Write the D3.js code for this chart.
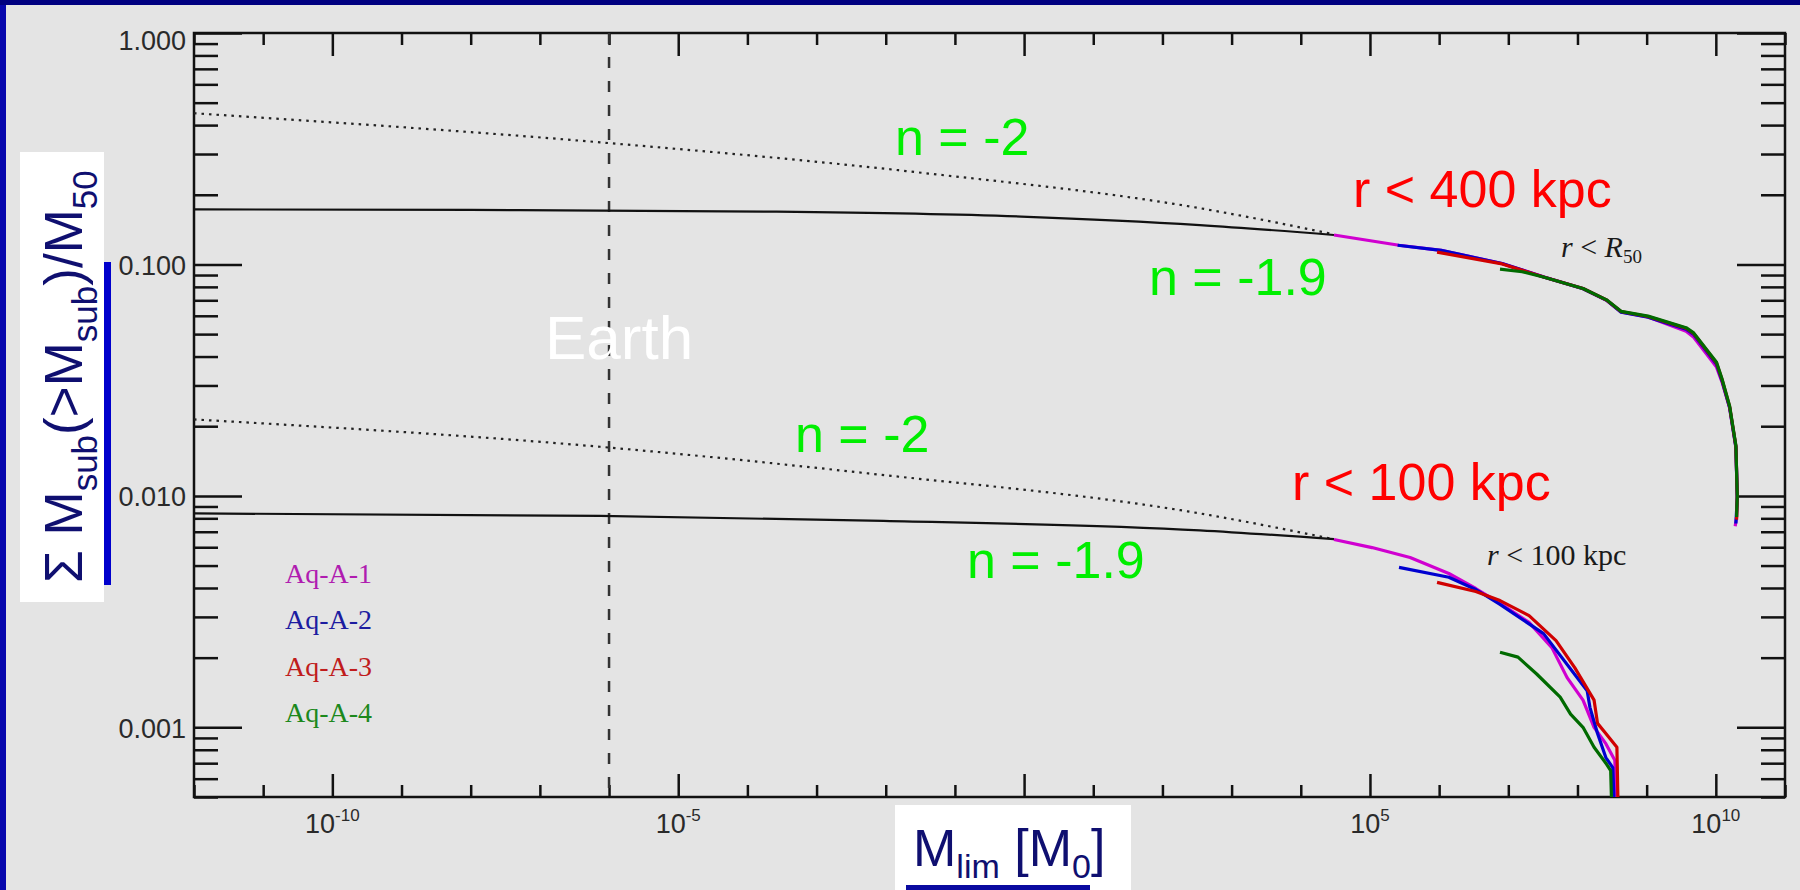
<!DOCTYPE html>
<html>
<head>
<meta charset="utf-8">
<script src="https://cdn.jsdelivr.net/npm/d3@7"></script>
<style>
	html, body { margin: 0; padding: 0; background: #e4e4e4; }
	svg { display: block; }
</style>
</head>
<body>
<div id="chart"></div>
<script>
(function(){
	// axis ticks (log10 exponents / values)
	var xMajorExp = [-10, -5, 0, 5, 10];
	var xLabelExp = [-10, -5, 5, 10];
	var yMajor = [1, 0.1, 0.01, 0.001];
	var yLabels = ['1.000', '0.100', '0.010', '0.001'];
	var earthExp = -6;

	// n = -2 extrapolations (dotted)
	var dotHiExp = [-12, -6.13, -1.59, 2.54, 4.48];
	var dotHiVal = [0.450, 0.337, 0.251, 0.175, 0.135];
	var dotLoExp = [-12, -6.13, -2.25, 2.54, 4.48];
	var dotLoVal = [0.0214, 0.0163, 0.0125, 0.0084, 0.0065];

	// n = -1.9 extrapolations (solid black)
	var fitHiExp = [-12, -8, -3.58, -0.04, 2.54, 4.48];
	var fitHiVal = [0.173, 0.172, 0.169, 0.161, 0.148, 0.134];
	var fitLoExp = [-12, -6.13, -2.03, 2.54, 4.48];
	var fitLoVal = [0.0084, 0.0082, 0.0078, 0.0071, 0.0065];

	// simulations, r < R50
	var hiA1Exp = [4.48, 5.42, 6.03, 6.91, 7.52, 8.08, 8.42, 8.63, 9.02, 9.57, 9.68, 10.01, 10.09, 10.20, 10.29, 10.31, 10.30, 10.28];
	var hiA1Val = [0.134, 0.121, 0.115, 0.101, 0.0883, 0.0787, 0.0701, 0.0624, 0.0593, 0.0515, 0.0485, 0.0360, 0.0310, 0.0240, 0.0163, 0.0099, 0.0081, 0.0074];
	var hiA2Exp = [5.40, 6.03, 6.91, 7.52, 8.08, 8.42, 8.63, 9.02, 9.57, 9.68, 10.01, 10.09, 10.20, 10.29, 10.31, 10.29];
	var hiA2Val = [0.121, 0.115, 0.101, 0.0880, 0.0785, 0.0700, 0.0622, 0.0592, 0.0525, 0.0498, 0.0370, 0.0314, 0.0240, 0.0162, 0.0098, 0.0076];
	var hiA3Exp = [5.97, 6.91, 7.52, 8.08, 8.42, 8.63, 9.02, 9.57, 9.68, 10.01, 10.09, 10.20, 10.29, 10.31, 10.30];
	var hiA3Val = [0.113, 0.1005, 0.0880, 0.0787, 0.0702, 0.0626, 0.0596, 0.0530, 0.0503, 0.0375, 0.0318, 0.0243, 0.0164, 0.0100, 0.0079];
	var hiA4Exp = [6.88, 7.20, 7.52, 8.08, 8.42, 8.63, 9.02, 9.57, 9.68, 10.01, 10.09, 10.20, 10.29, 10.31, 10.30];
	var hiA4Val = [0.0955, 0.0930, 0.0880, 0.0787, 0.0703, 0.0627, 0.0598, 0.0533, 0.0506, 0.0378, 0.0320, 0.0244, 0.0165, 0.0100, 0.0081];

	// simulations, r < 100 kpc
	var loA1Exp = [4.48, 5.03, 5.58, 6.14, 6.53, 6.88, 7.30, 7.63, 7.85, 8.08, 8.24, 8.41, 8.54, 8.57];
	var loA1Val = [0.00648, 0.00598, 0.00542, 0.00462, 0.00398, 0.00343, 0.00284, 0.00221, 0.00164, 0.00131, 0.00100, 0.00085, 0.00072, 0.0004];
	var loA2Exp = [5.42, 6.14, 6.53, 6.88, 7.51, 8.14, 8.18, 8.29, 8.41, 8.51, 8.54];
	var loA2Val = [0.00491, 0.00445, 0.00394, 0.00340, 0.00254, 0.00144, 0.00122, 0.00094, 0.00074, 0.00067, 0.0004];
	var loA3Exp = [5.97, 6.53, 6.88, 7.30, 7.69, 7.96, 8.24, 8.29, 8.41, 8.57, 8.59];
	var loA3Val = [0.00423, 0.00386, 0.00353, 0.00304, 0.00237, 0.00181, 0.00131, 0.00104, 0.00094, 0.00082, 0.0004];
	var loA4Exp = [6.88, 7.14, 7.41, 7.75, 7.90, 8.08, 8.24, 8.41, 8.48, 8.50];
	var loA4Val = [0.00211, 0.00201, 0.00170, 0.00135, 0.00114, 0.00100, 0.00082, 0.00070, 0.00065, 0.0004];

	var runs = ['Aq-A-1', 'Aq-A-2', 'Aq-A-3', 'Aq-A-4'];
	var lineColors = ['#d000d0', '#0000d0', '#d00000', '#006a00'];
	var legendColors = ['#b01cb0', '#1c1ca0', '#c01c1c', '#1c881c'];

	var width = 1800, height = 890;
	var plot = {left: 194, right: 1785, top: 33, bottom: 797};
	var sans = '"Liberation Sans", Arial, Helvetica, sans-serif';
	var serif = '"Liberation Serif", "Times New Roman", serif';
	var navy = '#0f0f70', green = '#00ee00', red = '#ff0000';

	var svg = d3.select('#chart').append('svg')
		.attr('width', width)
		.attr('height', height);

	svg.append('rect').attr('width', width).attr('height', height).attr('fill', '#e4e4e4');
	svg.append('rect').attr('x', 0).attr('y', 0).attr('width', 6).attr('height', height).attr('fill', '#0707ad');
	svg.append('rect').attr('x', 0).attr('y', 0).attr('width', width).attr('height', 5).attr('fill', '#000080');

	var x = d3.scaleLog().domain([1e-12, 1e11]).range([plot.left, plot.right]);
	var y = d3.scaleLog().domain([5e-4, 1]).range([plot.bottom, plot.top]);

	var pow = function(e) { return Math.pow(10, e); };
	var isDecade = function(v) { var l = Math.log10(v); return Math.abs(l - Math.round(l)) < 1e-6; };

	var xMajor = xMajorExp.map(pow);
	var xMinor = d3.range(-12, 12).filter(function(e) { return xMajorExp.indexOf(e) < 0; }).map(pow);
	var yMinor = y.ticks().filter(function(v) { return !isDecade(v); });

	// clip for the curves
	svg.append('clipPath').attr('id', 'clip')
		.append('rect')
			.attr('x', plot.left).attr('y', plot.top)
			.attr('width', plot.right - plot.left).attr('height', plot.bottom - plot.top);

	// ticks on all four sides
	var axes = svg.append('g').attr('class', 'axes');
	var tick = function(g, axis, tx, ty) {
		var a = axes.append('g').attr('transform', 'translate(' + tx + ',' + ty + ')').call(axis.tickFormat(''));
		a.select('.domain').remove();
		a.selectAll('line').attr('stroke', '#111').attr('stroke-width', 2.5);
	};
	tick(axes, d3.axisBottom(x).tickValues(xMajor).tickSize(-23), 0, plot.bottom);
	tick(axes, d3.axisBottom(x).tickValues(xMinor).tickSize(-12), 0, plot.bottom);
	tick(axes, d3.axisTop(x).tickValues(xMajor).tickSize(-23), 0, plot.top);
	tick(axes, d3.axisTop(x).tickValues(xMinor).tickSize(-12), 0, plot.top);
	tick(axes, d3.axisLeft(y).tickValues(yMajor).tickSize(-48), plot.left, 0);
	tick(axes, d3.axisLeft(y).tickValues(yMinor).tickSize(-24), plot.left, 0);
	tick(axes, d3.axisRight(y).tickValues(yMajor).tickSize(-48), plot.right, 0);
	tick(axes, d3.axisRight(y).tickValues(yMinor).tickSize(-24), plot.right, 0);

	axes.append('rect')
		.attr('x', plot.left).attr('y', plot.top)
		.attr('width', plot.right - plot.left).attr('height', plot.bottom - plot.top)
		.attr('fill', 'none').attr('stroke', '#111').attr('stroke-width', 2.5);

	// tick labels
	var xl = svg.append('g').selectAll('text')
		.data(xLabelExp)
		.enter().append('text')
			.attr('x', function(d) { return x(pow(d)); })
			.attr('y', 833)
			.attr('text-anchor', 'middle')
			.style('font-family', sans).style('font-size', '27px').style('fill', '#2a2a2a');
	xl.append('tspan').text('10');
	xl.append('tspan').attr('dy', -12).style('font-size', '17px').text(function(d) { return d; });

	svg.append('g').selectAll('text')
		.data(yMajor)
		.enter().append('text')
			.attr('x', 186)
			.attr('y', function(d) { return Math.max(y(d) + 10.5, 50); })
			.attr('text-anchor', 'end')
			.style('font-family', sans).style('font-size', '27px').style('fill', '#2a2a2a')
			.text(function(d, i) { return yLabels[i]; });

	// Earth line
	svg.append('line')
		.attr('x1', x(pow(earthExp))).attr('x2', x(pow(earthExp)))
		.attr('y1', plot.top).attr('y2', plot.bottom)
		.attr('stroke', '#333').attr('stroke-width', 2.5).attr('stroke-dasharray', '11,13');

	var pts = function(ex, vals) { return ex.map(function(e, i) { return [pow(e), vals[i]]; }); };
	var smooth = d3.line().x(function(d) { return x(d[0]); }).y(function(d) { return y(d[1]); }).curve(d3.curveMonotoneX);
	var jag = d3.line().x(function(d) { return x(d[0]); }).y(function(d) { return y(d[1]); });

	var curves = svg.append('g').attr('clip-path', 'url(#clip)');

	[[dotHiExp, dotHiVal], [dotLoExp, dotLoVal]].forEach(function(s) {
		curves.append('path').attr('d', smooth(pts(s[0], s[1])))
			.attr('fill', 'none').attr('stroke', '#222').attr('stroke-width', 2.2).attr('stroke-dasharray', '2.5,5');
	});
	[[fitHiExp, fitHiVal], [fitLoExp, fitLoVal]].forEach(function(s) {
		curves.append('path').attr('d', smooth(pts(s[0], s[1])))
			.attr('fill', 'none').attr('stroke', '#111').attr('stroke-width', 2.2);
	});

	var hi = [[hiA1Exp, hiA1Val], [hiA2Exp, hiA2Val], [hiA3Exp, hiA3Val], [hiA4Exp, hiA4Val]];
	var lo = [[loA1Exp, loA1Val], [loA2Exp, loA2Val], [loA3Exp, loA3Val], [loA4Exp, loA4Val]];
	[hi, lo].forEach(function(set) {
		set.forEach(function(s, i) {
			curves.append('path').attr('d', jag(pts(s[0], s[1])))
				.attr('fill', 'none').attr('stroke', lineColors[i]).attr('stroke-width', 3.2)
				.attr('stroke-linejoin', 'round');
		});
	});

	// legend
	svg.append('g').selectAll('text')
		.data(runs)
		.enter().append('text')
			.attr('x', 285)
			.attr('y', function(d, i) { return 583 + i * 46.3; })
			.style('font-family', serif).style('font-size', '28px')
			.style('fill', function(d, i) { return legendColors[i]; })
			.text(function(d) { return d; });

	// annotations
	var note = function(t, tx, ty, size, color, font) {
		return svg.append('text').attr('x', tx).attr('y', ty)
			.style('font-family', font || sans).style('font-size', size + 'px').style('fill', color)
			.text(t);
	};
	note('n = -2', 895, 155, 52, green);
	note('n = -1.9', 1149, 295, 52, green);
	note('r < 400 kpc', 1353, 207, 52, red);
	note('Earth', 545, 359, 62, '#ffffff');
	note('n = -2', 795, 452, 52, green);
	note('n = -1.9', 967, 578, 52, green);
	note('r < 100 kpc', 1292, 500, 52, red);

	var r50 = svg.append('text').attr('x', 1561).attr('y', 257)
		.style('font-family', serif).style('font-size', '30px').style('fill', '#1a1a1a');
	r50.append('tspan').style('font-style', 'italic').text('r');
	r50.append('tspan').text(' < ');
	r50.append('tspan').style('font-style', 'italic').text('R');
	r50.append('tspan').attr('dy', 6).style('font-size', '19px').text('50');

	var r100 = svg.append('text').attr('x', 1487).attr('y', 565)
		.style('font-family', serif).style('font-size', '30px').style('fill', '#1a1a1a');
	r100.append('tspan').style('font-style', 'italic').text('r');
	r100.append('tspan').text(' < 100 kpc');

	// y axis title
	svg.append('rect').attr('x', 20).attr('y', 152).attr('width', 84).attr('height', 450).attr('fill', '#ffffff');
	svg.append('rect').attr('x', 104).attr('y', 262).attr('width', 7).attr('height', 323).attr('fill', '#0000cc');
	var yt = svg.append('text')
		.attr('transform', 'translate(82,583) rotate(-90)')
		.style('font-family', sans).style('font-size', '53px').style('fill', navy);
	yt.append('tspan').text('\u03A3 M');
	yt.append('tspan').attr('dy', 15).style('font-size', '35px').text('sub');
	yt.append('tspan').attr('dy', -15).text('(>M');
	yt.append('tspan').attr('dy', 15).style('font-size', '35px').text('sub');
	yt.append('tspan').attr('dy', -15).text(')/M');
	yt.append('tspan').attr('dy', 15).style('font-size', '35px').text('50');

	// x axis title
	svg.append('rect').attr('x', 895).attr('y', 805).attr('width', 236).attr('height', 85).attr('fill', '#ffffff');
	svg.append('rect').attr('x', 906).attr('y', 885).attr('width', 184).attr('height', 5).attr('fill', '#0a0aa0');
	var xt = svg.append('text').attr('x', 913).attr('y', 866)
		.style('font-family', sans).style('font-size', '52px').style('fill', navy);
	xt.append('tspan').text('M');
	xt.append('tspan').attr('dy', 12).style('font-size', '34px').text('lim');
	xt.append('tspan').attr('dy', -12).text(' [M');
	xt.append('tspan').attr('dy', 12).style('font-size', '34px').text('0');
	xt.append('tspan').attr('dy', -12).text(']');
})();
</script>
</body>
</html>
